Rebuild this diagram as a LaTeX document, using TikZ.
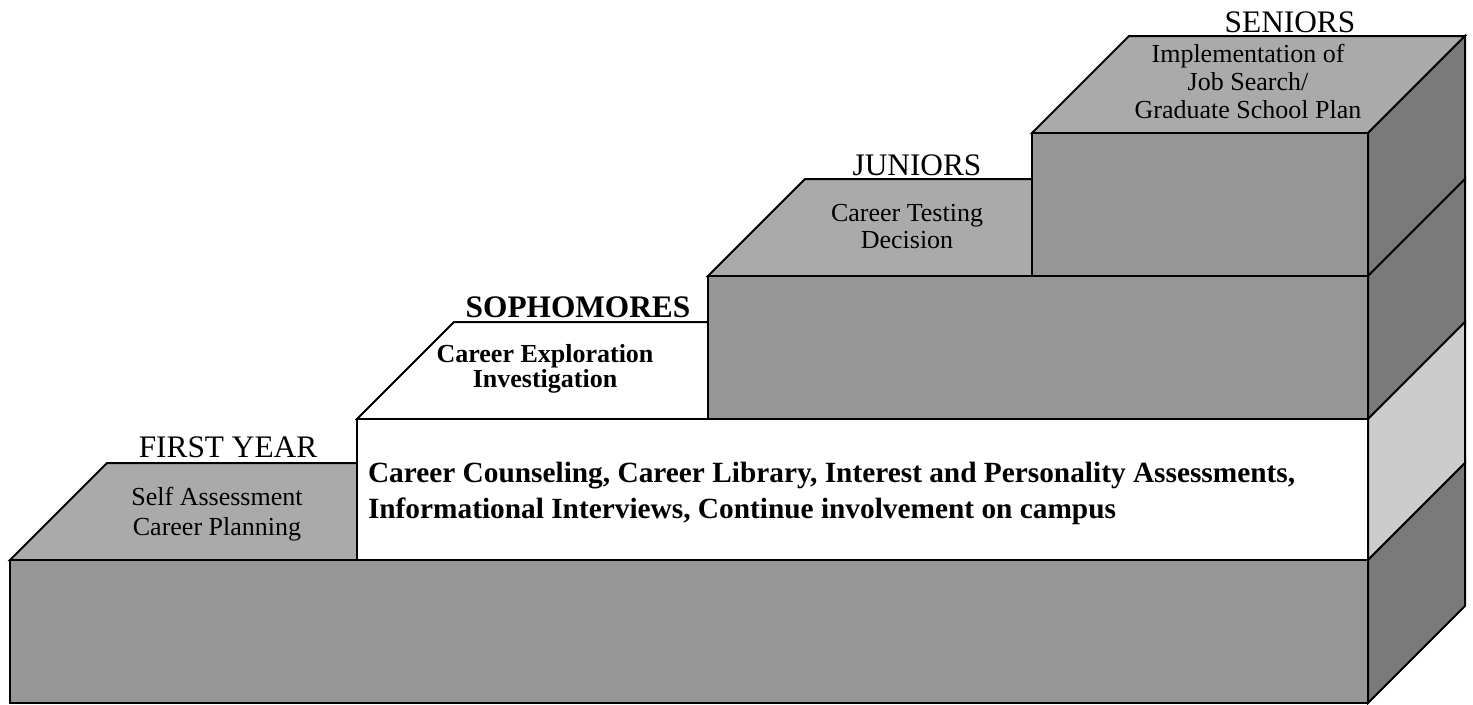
\documentclass[tikz,border=0pt]{standalone}
\usepackage{fontspec}
\setmainfont{Liberation Serif}
\usepackage{tikz}
\tikzset{every picture/.style={line width=1.5pt}}
\definecolor{frontgray}{RGB}{150,150,150}
\definecolor{topgray}{RGB}{170,170,170}
\definecolor{sidegray}{RGB}{122,122,122}
\definecolor{sidelight}{RGB}{204,204,204}
\newcommand{\headfont}{\fontsize{23.5}{28}\selectfont}
\newcommand{\subfont}{\fontsize{19.5}{22.5}\selectfont}

\begin{document}
\begin{tikzpicture}[x=0.75pt,y=0.75pt,yscale=-1,xscale=1]
\useasboundingbox (0,0) rectangle (1473,704);

%Shape: Top of seniors step [id:top4]
\draw [fill=topgray] (1032,133) -- (1129,36) -- (1465,36) -- (1368,133) -- cycle ;
%Shape: Right side bands
\draw [fill=sidegray] (1368,133) -- (1465,36) -- (1465,179) -- (1368,276) -- cycle ;
\draw [fill=sidegray] (1368,276) -- (1465,179) -- (1465,322) -- (1368,419) -- cycle ;
\draw [fill=sidelight] (1368,419) -- (1465,322) -- (1465,463) -- (1368,560) -- cycle ;
\draw [fill=sidegray] (1368,560) -- (1465,463) -- (1465,606) -- (1368,703) -- cycle ;
%Shape: Top of juniors step
\draw [fill=topgray] (708,276) -- (805,179) -- (1032,179) -- (1032,276) -- cycle ;
%Shape: Top of sophomores step
\draw [fill=white] (357,419) -- (454,322) -- (708,322) -- (708,419) -- cycle ;
%Shape: Top of first year step
\draw [fill=topgray] (10,560) -- (107,463) -- (357,463) -- (357,560) -- cycle ;
%Shape: Front faces
\draw [fill=frontgray] (1032,133) rectangle (1368,276) ;
\draw [fill=frontgray] (708,276) rectangle (1368,419) ;
\draw [fill=white] (357,419) rectangle (1368,560) ;
\draw [fill=frontgray] (10,560) rectangle (1368,703) ;

% Text Node
\draw (228,457) node (firsthead) [anchor=base][inner sep=0.75pt] [font=\headfont] {FIRST YEAR};
% Text Node
\draw (217,514) node (firstsub) [inner sep=0.75pt] [font=\subfont] [align=center] {Self Assessment\\Career Planning};
% Text Node
\draw (578,317) node (sophhead) [anchor=base][inner sep=0.75pt] [font=\headfont\bfseries] {SOPHOMORES};
% Text Node
\draw (545,368.5) node (sophsub) [inner sep=0.75pt] [font=\fontsize{19.5}{18.75}\selectfont\bfseries] [align=center] {Career Exploration\\Investigation};
% Text Node
\draw (917,175) node (junhead) [anchor=base][inner sep=0.75pt] [font=\headfont] {JUNIORS};
% Text Node
\draw (907,226.7) node (junsub) [inner sep=0.75pt] [font=\fontsize{19.5}{20.25}\selectfont] [align=center] {Career Testing\\Decision};
% Text Node
\draw (1290,32) node (senhead) [anchor=base][inner sep=0.75pt] [font=\headfont] {SENIORS};
% Text Node
\draw (1248,81) node (sensub) [inner sep=0.75pt] [font=\fontsize{19.5}{21}\selectfont] [align=center] {Implementation of\\Job Search/\\Graduate School Plan};
% Text Node
\draw (366,493.5) node (services) [anchor=west][inner sep=0.75pt] [font=\fontsize{22}{27}\selectfont\bfseries] [align=left] {Career Counseling, Career Library, Interest and Personality Assessments,\\Informational Interviews, Continue involvement on campus};

\end{tikzpicture}
\end{document}
